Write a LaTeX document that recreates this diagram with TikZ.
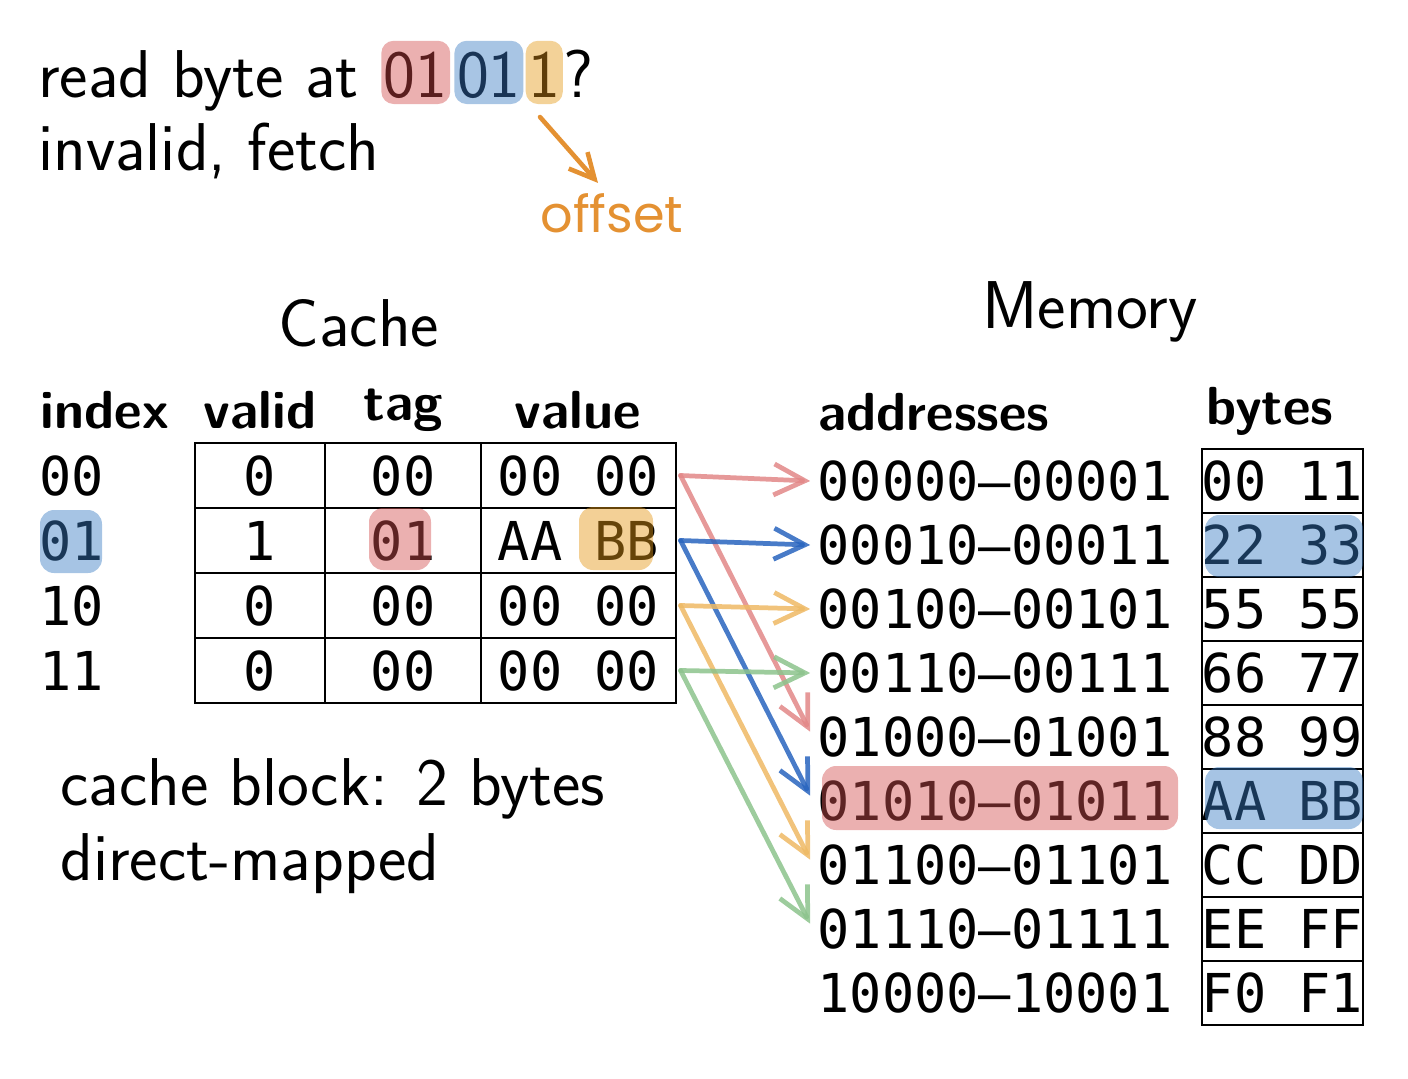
\documentclass[tikz,border=0pt]{standalone}
\usepackage{fontspec}
\setmonofont{DejaVu Sans Mono}
\newfontfamily\handfont{Poppins}
\usepackage{tikz}
\usetikzlibrary{arrows.meta}

\definecolor{hlred}{RGB}{210,80,80}
\definecolor{hlblue}{RGB}{57,124,195}
\definecolor{hlorange}{RGB}{228,151,22}
\definecolor{bitsred}{RGB}{235,176,176}
\definecolor{bitsblue}{RGB}{168,197,228}
\definecolor{bitsorange}{RGB}{243,210,152}
\definecolor{bitsredtext}{RGB}{90,30,30}
\definecolor{bitsbluetext}{RGB}{25,52,85}
\definecolor{bitsorangetext}{RGB}{95,62,10}
\definecolor{arrred}{RGB}{226,135,135}
\definecolor{arrblue}{RGB}{40,100,190}
\definecolor{arrorange}{RGB}{238,185,100}
\definecolor{arrgreen}{RGB}{140,195,140}
\definecolor{offsetorange}{RGB}{228,145,50}

\newcommand{\bigtext}{\fontsize{38.5}{46}\selectfont\sffamily}
\newcommand{\headtext}{\fontsize{30.5}{36}\selectfont\sffamily\bfseries}
\newcommand{\celltext}{\fontsize{30.5}{36}\selectfont\ttfamily}

\tikzset{
  txt/.style={inner sep=0pt, font=\bigtext},
  bits/.style={txt, anchor=base west, rounded corners=7pt, inner xsep=1.5pt,
    inner ysep=0pt, text height=32pt, text depth=4pt},
  head/.style={inner sep=0pt, font=\headtext},
  cell/.style={draw, line width=1.2pt, inner sep=0pt, font=\celltext},
  plain/.style={inner sep=0pt, font=\celltext},
  hl/.style={fill opacity=.45, rounded corners=8pt},
  link/.style={line width=2.7pt, opacity=.85, line cap=round,
    -{Straight Barb[length=0.62cm,width=0.62cm]}},
}

\begin{document}
\begin{tikzpicture}[x=0.02cm, y=-0.02cm]
\useasboundingbox (0,0) rectangle (1408,1078);

% the request
\node[txt, anchor=base west] (readat) at (38,97) {read byte at};
\node[bits, fill=bitsred, text=bitsredtext] (tagbits) at (381,97) {01};
\node[bits, fill=bitsblue, text=bitsbluetext] (idxbits) at ([xshift=2pt]tagbits.base east) {01};
\node[bits, fill=bitsorange, text=bitsorangetext] (offbits) at ([xshift=1pt]idxbits.base east) {1};
\node[txt, anchor=base west] (qmark) at (offbits.base east) {?};
\node[txt, anchor=base west] (fetch) at (38,170) {invalid, fetch};
\node[inner sep=0pt, font=\fontsize{29}{34}\selectfont\handfont, text=offsetorange] (offset) at (612,213) {offset};
\coordinate (offtail) at (540,117);
\draw[line width=2.6pt, offsetorange, line cap=round,
      -{Straight Barb[length=0.5cm,width=0.5cm]}] (offtail) -- ([shift={(-14,-10)}]offset.north);

% cache
\node[txt] (cachetitle) at (359,323) {Cache};
\node[head] (hindex) at (105,410) {index};
\node[head] (hvalid) at (260,410) {valid};
\node[head] (htag) at (403,410) {tag};
\node[head] (hvalue) at (578,410) {value};
\foreach \i/\lab in {0/00,1/01,2/10,3/11}
  \node[plain] (idx\i) at (72,{475.5+65*\i}) {\lab};
\foreach \i/\v/\t/\val in {0/0/00/00 00, 1/1/01/AA BB, 2/0/00/00 00, 3/0/00/00 00} {
  \node[cell, minimum width=2.6cm, minimum height=1.3cm] (valid\i) at (260,{475.5+65*\i}) {\v};
  \node[cell, minimum width=3.12cm, minimum height=1.3cm] (tag\i) at (403,{475.5+65*\i}) {\t};
  \node[cell, minimum width=3.9cm, minimum height=1.3cm] (val\i) at (578.5,{475.5+65*\i}) {\val};
}
\node[txt, anchor=base west] (blocksize) at (60,805) {cache block: 2 bytes};
\node[txt, anchor=base west] (mapping) at (60,880) {direct-mapped};

% memory
\node[txt] (memtitle) at (1090,312) {Memory};
\node[head] (haddr) at (934,412) {addresses};
\node[head] (hbytes) at (1270,411) {bytes};
\foreach \i/\a/\b in {0/00000–00001/00 11, 1/00010–00011/22 33, 2/00100–00101/55 55,
                      3/00110–00111/66 77, 4/01000–01001/88 99, 5/01010–01011/AA BB,
                      6/01100–01101/CC DD, 7/01110–01111/EE FF, 8/10000–10001/F0 F1} {
  \node[plain] (addr\i) at (995,{481+64*\i}) {\a};
  \node[cell, minimum width=3.1cm, minimum height=1.28cm] (byte\i) at (1282.5,{481+64*\i}) {\b};
}

% highlights
\begin{scope}[hl]
  \fill[hlblue] (40,510) rectangle (102,573);
  \fill[hlred] (369,508) rectangle (431,570);
  \fill[hlorange] (579,507) rectangle (653,570);
  \fill[hlred] (822,766) rectangle (1178,830);
  \fill[hlblue] (1205,515) rectangle (1363,577);
  \fill[hlblue] (1205,767) rectangle (1363,829);
\end{scope}

% where each line can come from
\foreach \i/\c in {0/arrred,1/arrblue,2/arrorange,3/arrgreen} {
  \pgfmathtruncatemacro{\j}{\i+4}
  \draw[link, \c] ([xshift=2pt]val\i.east) -- ([xshift=-4pt]addr\i.west);
  \draw[link, \c] ([xshift=2pt]val\i.east) -- ([xshift=-4pt,yshift=3pt]addr\j.west);
}
\end{tikzpicture}
\end{document}
